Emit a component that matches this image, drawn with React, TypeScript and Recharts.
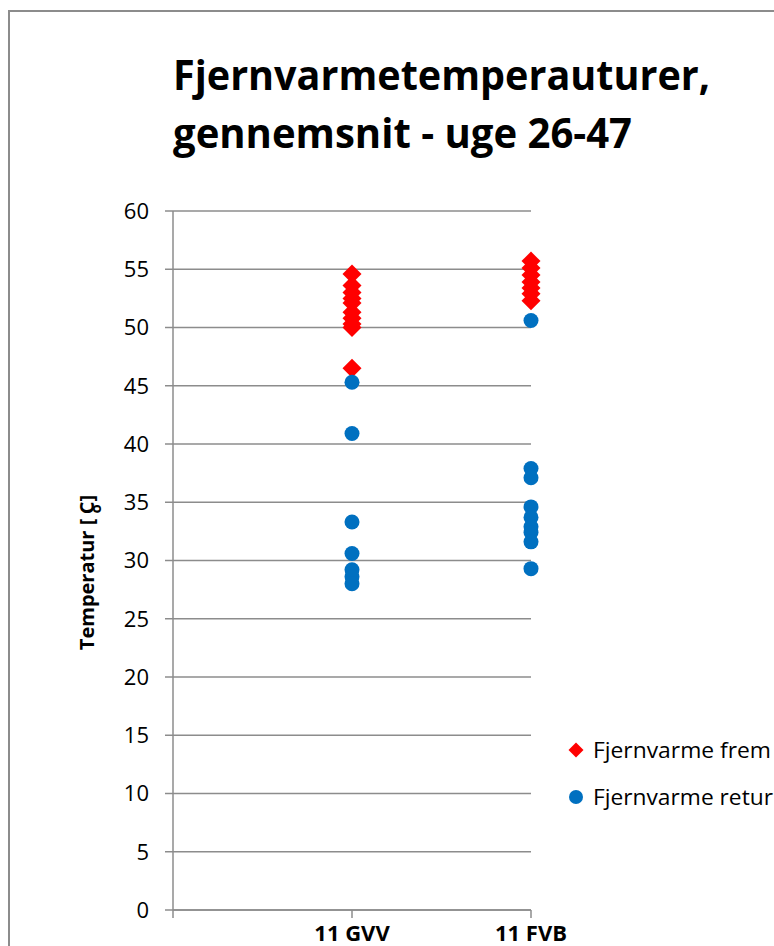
import { ScatterChart, Scatter, XAxis, YAxis, CartesianGrid } from "recharts";

const FONT = "'Open Sans', Lato, sans-serif";

const categories = ["", "11 GVV", "11 FVB"];
const yTicks = [0, 5, 10, 15, 20, 25, 30, 35, 40, 45, 50, 55, 60];
const titleLines = ["Fjernvarmetemperauturer,", "gennemsnit - uge 26-47"];
// legend texts as far as they show before the picture's right edge
const seriesNames = ["Fjernvarme frem", "Fjernvarme retur"];

// temperatures, per category
const gvvFrem = [54.6, 53.6, 53.0, 52.5, 52.1, 51.3, 50.8, 50.3, 50.0, 46.5];
const gvvRetur = [45.3, 40.9, 33.3, 30.6, 29.2, 28.6, 28.0];
const fvbFrem = [55.7, 55.1, 54.5, 53.9, 53.4, 52.9, 52.3];
const fvbRetur = [50.6, 37.9, 37.1, 34.6, 33.7, 32.9, 32.4, 31.6, 29.3];

const toPoints = (gvv: number[], fvb: number[]) => [
  ...gvv.map((y) => ({ x: 1, y })),
  ...fvb.map((y) => ({ x: 2, y })),
];

const fremData = toPoints(gvvFrem, fvbFrem);
const returData = toPoints(gvvRetur, fvbRetur);

const RED = "#FF0000";
const BLUE = "#0070C0";
const GRID = "#8c8c8c";

function Diamond(props: any) {
  const { cx, cy } = props;
  const r = 9.5;
  return (
    <path
      d={`M${cx},${cy - r}L${cx + r},${cy}L${cx},${cy + r}L${cx - r},${cy}Z`}
      fill={RED}
    />
  );
}

function Dot(props: any) {
  const { cx, cy } = props;
  return <circle cx={cx} cy={cy} r={7.5} fill={BLUE} />;
}

function YLabel(props: any) {
  const { viewBox } = props;
  const x = 94;
  const y = viewBox.y + viewBox.height / 2 + 12;
  return (
    <text
      x={x}
      y={y}
      transform={`rotate(-90, ${x}, ${y})`}
      textAnchor="middle"
      fontFamily={FONT}
      fontWeight="bold"
      fontSize={20}
      fill="#000"
    >
      Temperatur [ <tspan dy={7} fontSize={15}>o</tspan>
      <tspan dx={-10} dy={-7}>C]</tspan>
    </text>
  );
}

function LegendBox() {
  return (
    <svg width={210} height={100}>
      {seriesNames.map((name, i) => {
        const cy = 24 + i * 47;
        return (
          <g key={name}>
            {i === 0 ? (
              <path d={`M11,${cy - 7.5}L18.5,${cy}L11,${cy + 7.5}L3.5,${cy}Z`} fill={RED} />
            ) : (
              <circle cx={11} cy={cy} r={7} fill={BLUE} />
            )}
            <text
              x={28}
              y={cy + 8}
              fontFamily={FONT}
              fontSize={22}
              fill="#000"
              textLength={i === 0 ? 178 : 180}
              lengthAdjust="spacingAndGlyphs"
            >
              {name}
            </text>
          </g>
        );
      })}
    </svg>
  );
}

export default function App() {
  return (
    <div
      style={{
        position: "absolute",
        left: 0,
        top: 0,
        width: 774,
        height: 946,
        overflow: "hidden",
        background: "#fff",
      }}
    >
      <div
        style={{
          position: "absolute",
          left: 8,
          top: 10,
          width: 820,
          height: 1000,
          border: "2px solid #8c8c8c",
          boxSizing: "border-box",
        }}
      />
      <svg
        width={774}
        height={170}
        style={{ position: "absolute", left: 0, top: 0 }}
      >
        <text
          x={173}
          y={90}
          fontFamily={FONT}
          fontWeight="bold"
          fontSize={42}
          textLength={537}
          lengthAdjust="spacingAndGlyphs"
        >
          {titleLines[0]}
        </text>
        <text
          x={173}
          y={148}
          fontFamily={FONT}
          fontWeight="bold"
          fontSize={42}
          textLength={459}
          lengthAdjust="spacingAndGlyphs"
        >
          {titleLines[1]}
        </text>
      </svg>
      <div style={{ position: "absolute", left: 0, top: 0 }}>
        <ScatterChart
          width={774}
          height={946}
          margin={{ top: 211, right: 243, bottom: 6, left: 113 }}
        >
          <CartesianGrid vertical={false} stroke={GRID} strokeWidth={1.5} />
          <XAxis
            type="number"
            dataKey="x"
            domain={[0, 2]}
            ticks={[0, 1, 2]}
            tickFormatter={(v: number) => categories[v] ?? ""}
            height={30}
            tickSize={8}
            tickMargin={7}
            stroke={GRID}
            strokeWidth={1.5}
            tick={{ fill: "#000", fontFamily: FONT, fontWeight: "bold", fontSize: 22 }}
          />
          <YAxis
            type="number"
            dataKey="y"
            domain={[0, 60]}
            ticks={yTicks}
            interval={0}
            width={60}
            tickSize={8}
            tickMargin={16}
            stroke={GRID}
            strokeWidth={1.5}
            tick={{ fill: "#000", fontFamily: FONT, fontSize: 22 }}
            label={{ content: YLabel } as any}
          />
          <Scatter name={seriesNames[0]} data={fremData} shape={Diamond} isAnimationActive={false} />
          <Scatter name={seriesNames[1]} data={returData} shape={Dot} isAnimationActive={false} />
        </ScatterChart>
      </div>
      <div style={{ position: "absolute", left: 565, top: 726 }}>
        <LegendBox />
      </div>
    </div>
  );
}
